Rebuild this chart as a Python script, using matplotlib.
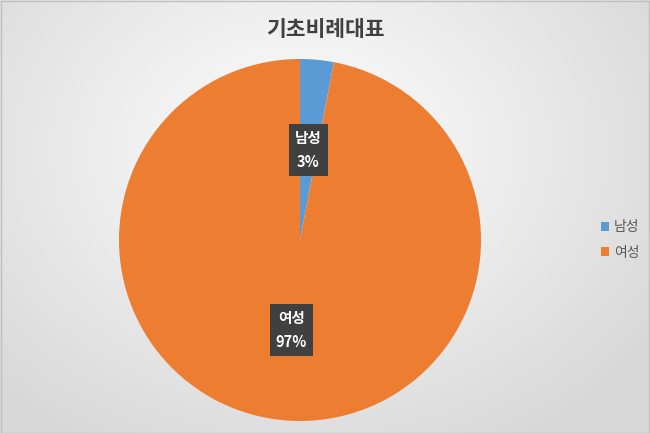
import numpy as np
import matplotlib
matplotlib.use("Agg")
import matplotlib.pyplot as plt

plt.rcParams['font.family'] = ['Noto Sans CJK KR', 'DejaVu Sans']

title = "기초비례대표"
categories = ["남성", "여성"]
values = [3, 97]
colors = ["#5b9bd5", "#ed7d31"]

fig = plt.figure(figsize=(6.5, 4.33), dpi=100)

# radial gradient background
bg = fig.add_axes([0, 0, 1, 1], zorder=-10)
h, w = 433, 650
yy, xx = np.mgrid[0:h, 0:w]
cx, cy = 300, 150
d = np.sqrt(((xx - cx) / 420.0) ** 2 + ((yy - cy) / 330.0) ** 2)
d = np.clip(d, 0, 1)
val = 1.0 - d * (1.0 - 0.85)
img = np.dstack([val, val, val])
bg.imshow(img, extent=[0, 1, 0, 1], aspect='auto', origin='upper')
bg.set_xlim(0, 1)
bg.set_ylim(0, 1)
bg.axis('off')
bg.add_patch(plt.Rectangle((0.0008, 0.001), 0.9984, 0.997, fill=False,
                           edgecolor="#c0c0c0", lw=1.0, transform=bg.transAxes))

ax = fig.add_axes([119 / 650, (433 - 421) / 433, 362 / 650, 362 / 433])
ax.set_aspect('equal')

counter = iter(range(len(values)))
def fmt(p):
    i = next(counter)
    return f"{categories[i]}\n{p:.0f}%"

wedges, texts, autotexts = ax.pie(
    values, colors=colors, startangle=90, counterclock=False,
    autopct=fmt, pctdistance=0.5, radius=1.0,
    wedgeprops=dict(linewidth=0),
    textprops=dict(color="white", fontsize=10.5, fontweight="bold",
                   linespacing=1.6))
for t in autotexts:
    t.set_bbox(dict(boxstyle="square,pad=0.4", facecolor="#404040",
                    edgecolor="none"))
    t.set_ha("center")
    t.set_va("center")
ax.set_xlim(-1, 1)
ax.set_ylim(-1, 1)

fig.text(325 / 650, 1 - 29 / 433, title, ha="center", va="center",
         fontsize=15.5, fontweight="bold", color="#404040")

leg = fig.legend(wedges, categories, loc="center left",
                 bbox_to_anchor=(588 / 650, 1 - 240 / 433), frameon=False,
                 fontsize=10, handlelength=0.6, handleheight=0.6,
                 handletextpad=0.35, labelspacing=0.8)
for t in leg.get_texts():
    t.set_color("#595959")

fig.savefig("out.png", dpi=100)
